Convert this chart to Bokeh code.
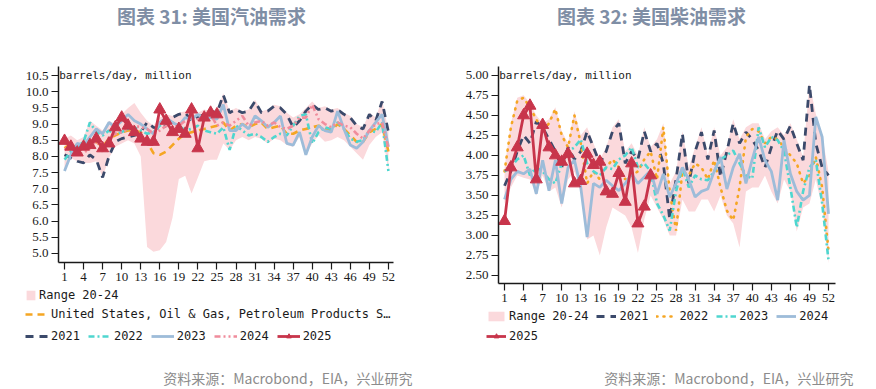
from bokeh.plotting import figure
from bokeh.models import Range1d, Legend, LegendItem, Label, FixedTicker, NumeralTickFormatter
from bokeh.layouts import row, column
from bokeh.embed import file_html
from bokeh.resources import INLINE

# ---------------- data ----------------
weeks = list(range(1, 53))
week_ticks = [1, 4, 7, 10, 13, 16, 19, 22, 25, 28, 31, 34, 37, 40, 43, 46, 49, 52]

gas_ticks = [5.0, 5.5, 6.0, 6.5, 7.0, 7.5, 8.0, 8.5, 9.0, 9.5, 10.0, 10.5]
diesel_ticks = [2.50, 2.75, 3.00, 3.25, 3.50, 3.75, 4.00, 4.25, 4.50, 4.75, 5.00]

# Gasoline (million barrels/day)
gas_low = [7.55, 7.95, 7.85, 7.80, 7.80, 7.85, 7.35, 7.95, 8.30, 8.40, 8.50, 8.40, 8.00,
           5.20, 5.05, 5.10, 5.35, 6.10, 7.30, 7.40, 6.85, 7.35, 7.85, 7.90, 7.90, 8.40,
           8.20, 8.50, 8.60, 8.50, 8.60, 8.55, 8.40, 8.55, 8.50, 8.35, 8.30, 8.60, 8.05,
           8.40, 8.65, 8.45, 8.50, 8.60, 8.50, 8.30, 8.10, 7.90, 8.35, 8.60, 8.75, 7.55]
gas_high = [8.55, 8.65, 8.50, 8.60, 9.10, 8.95, 8.80, 9.10, 9.00, 9.30, 9.50, 9.65, 9.35,
            9.10, 8.95, 9.20, 9.30, 9.25, 9.35, 9.40, 9.45, 9.35, 9.45, 9.40, 9.40, 9.95,
            9.40, 9.50, 9.40, 9.45, 9.75, 9.40, 9.45, 9.60, 9.55, 9.35, 9.20, 9.30, 9.50,
            9.70, 9.50, 9.55, 9.45, 9.50, 9.35, 9.25, 9.00, 8.90, 9.35, 9.20, 9.75, 8.80]
gas_us = [8.25, 8.40, 8.30, 8.20, 8.35, 8.45, 8.30, 8.55, 8.65, 8.75, 8.80, 8.80, 8.75,
          8.45, 8.10, 8.05, 8.15, 8.35, 8.55, 8.70, 8.75, 8.80, 8.85, 8.90, 8.95, 9.05,
          8.80, 8.95, 9.00, 8.90, 9.00, 9.05, 8.85, 8.90, 8.95, 8.70, 8.70, 8.80, 8.85,
          8.90, 8.95, 8.85, 8.80, 9.00, 8.85, 8.65, 8.45, 8.45, 8.75, 8.85, 9.00, 8.15]
gas_2021 = [8.05, 7.95, 7.85, 7.80, 8.05, 7.90, 7.35, 8.00, 8.45, 8.55, 8.60, 8.65, 8.75,
            9.05, 8.90, 8.85, 8.95, 9.20, 9.30, 9.35, 9.10, 9.20, 9.30, 9.40, 9.35, 9.90,
            9.35, 9.45, 9.35, 9.40, 9.70, 9.35, 9.40, 9.55, 9.50, 9.30, 8.90, 9.10, 9.40,
            9.60, 9.45, 9.50, 9.40, 9.45, 9.30, 9.20, 8.95, 8.85, 9.30, 9.10, 9.70, 8.75]
gas_2022 = [7.90, 8.15, 8.30, 8.45, 9.05, 8.75, 8.65, 8.80, 8.70, 8.75, 8.85, 8.90, 8.80,
            8.70, 8.75, 8.95, 9.05, 9.05, 8.95, 8.80, 8.85, 8.95, 8.80, 8.75, 8.70, 8.90,
            8.20, 8.95, 8.80, 8.65, 8.70, 8.60, 8.45, 8.60, 8.70, 8.65, 8.95, 9.25, 9.30,
            8.40, 8.75, 8.90, 8.85, 9.05, 8.85, 8.55, 8.45, 8.50, 8.80, 8.75, 9.05, 7.55]
gas_2023 = [7.55, 8.05, 8.40, 8.35, 8.60, 8.85, 8.70, 9.05, 8.90, 9.10, 9.30, 9.10, 9.00,
            8.85, 8.70, 9.05, 9.20, 9.05, 8.95, 9.20, 9.15, 9.30, 9.15, 9.20, 9.15, 9.60,
            8.80, 8.80, 9.00, 8.85, 9.25, 9.10, 8.90, 9.05, 9.25, 8.40, 8.35, 8.75, 8.05,
            8.60, 8.95, 8.80, 8.75, 9.40, 8.85, 8.35, 8.25, 8.45, 8.80, 9.05, 9.30, 8.30]
gas_2024 = [8.20, 8.35, 8.05, 8.10, 8.25, 8.50, 8.15, 8.60, 8.70, 8.75, 8.85, 8.95, 8.90,
            8.85, 8.70, 8.80, 8.95, 8.90, 8.95, 9.10, 9.05, 9.15, 9.20, 9.30, 8.95, 9.05,
            8.95, 9.10, 9.25, 8.95, 9.05, 9.10, 8.95, 9.05, 8.90, 8.85, 8.95, 9.20, 9.20,
            9.60, 9.15, 9.00, 8.90, 9.05, 8.95, 8.90, 8.70, 8.55, 8.80, 9.00, 9.05, 8.25]
gas_2025 = [8.48, 8.30, 8.12, 8.30, 8.35, 8.55, 8.25, 8.40, 8.90, 9.20, 8.95, 8.75, 8.55,
            8.45, 8.45, 9.45, 9.10, 8.75, 8.85, 8.70, 9.45, 8.25, 9.20, 9.35, 9.30]

# Diesel (million barrels/day)
dsl_low = [3.40, 3.60, 3.75, 3.72, 3.70, 3.50, 3.75, 3.55, 3.60, 3.35, 3.70, 3.80, 3.55,
           2.95, 3.00, 2.75, 3.10, 3.35, 3.30, 3.25, 3.10, 2.78, 3.20, 3.50, 3.35, 3.20,
           3.00, 3.00, 3.45, 3.30, 3.30, 3.45, 3.45, 3.30, 3.50, 3.25, 3.15, 2.85, 3.55,
           3.60, 3.60, 3.75, 3.55, 3.40, 3.70, 3.55, 3.05, 3.35, 3.40, 3.70, 3.35, 2.65]
dsl_high = [3.85, 4.40, 4.72, 4.75, 4.65, 4.50, 4.40, 4.45, 4.60, 4.30, 4.15, 4.55, 4.25,
            4.35, 4.15, 3.95, 4.10, 4.35, 4.45, 4.05, 4.15, 4.00, 4.35, 4.10, 4.20, 4.40,
            3.65, 3.80, 4.30, 3.85, 4.10, 4.35, 4.00, 4.35, 4.00, 4.10, 4.45, 4.20, 4.35,
            4.40, 4.40, 4.20, 4.30, 4.35, 4.25, 4.40, 4.20, 3.98, 4.90, 4.52, 4.25, 3.80]
dsl_2021 = [3.62, 3.80, 4.05, 4.25, 4.15, 4.42, 4.35, 4.20, 4.05, 3.85, 4.10, 3.95, 4.05,
            4.30, 4.10, 3.90, 4.05, 4.30, 4.40, 3.90, 4.05, 3.95, 4.30, 4.05, 4.15, 3.90,
            3.20, 3.70, 4.27, 3.65, 4.05, 4.29, 3.95, 4.31, 3.73, 4.05, 4.40, 4.15, 4.29,
            4.20, 4.06, 3.85, 4.10, 4.31, 4.20, 4.37, 4.15, 3.94, 4.88, 4.15, 3.85, 3.75]
dsl_2022 = [3.80, 4.35, 4.68, 4.72, 4.60, 4.45, 4.30, 4.40, 4.58, 4.25, 4.10, 4.50, 4.15,
            3.65, 3.80, 3.70, 3.85, 3.95, 3.85, 3.70, 3.75, 3.80, 3.95, 4.05, 3.70, 4.35,
            3.55, 3.06, 3.80, 3.75, 3.90, 3.85, 3.70, 3.94, 3.60, 3.31, 3.19, 3.60, 4.23,
            4.33, 4.30, 4.15, 4.23, 4.20, 4.10, 4.00, 3.90, 3.65, 3.75, 3.98, 3.60, 2.81]
dsl_2023 = [3.80, 3.85, 3.95, 4.00, 3.75, 3.85, 3.80, 3.70, 3.65, 3.90, 4.05, 4.10, 4.20,
            3.90, 3.80, 3.75, 3.85, 3.83, 3.95, 4.00, 4.10, 3.85, 3.90, 3.80, 3.40, 3.25,
            3.06, 3.55, 3.85, 3.60, 3.75, 3.70, 3.69, 3.80, 3.95, 4.00, 4.06, 3.90, 3.75,
            3.71, 4.35, 4.10, 4.23, 4.19, 4.05, 3.60, 3.10, 3.55, 3.85, 3.94, 3.40, 2.69]
dsl_2024 = [3.45, 3.70, 3.80, 3.77, 3.83, 3.52, 3.94, 3.56, 3.94, 3.40, 3.85, 3.94, 3.60,
            2.98, 3.65, 3.60, 3.69, 3.62, 3.56, 3.65, 3.77, 3.65, 3.73, 3.81, 3.52, 3.77,
            3.48, 3.65, 3.85, 3.70, 3.48, 3.55, 3.58, 3.80, 3.98, 3.58, 3.85, 4.02, 3.65,
            3.95, 4.23, 3.94, 3.80, 3.44, 4.19, 3.77, 3.55, 3.44, 3.50, 4.48, 4.23, 3.27]
dsl_2025 = [3.18, 3.85, 4.10, 4.50, 4.62, 3.70, 4.38, 4.10, 4.00, 3.92, 4.02, 3.65, 3.68,
            4.02, 3.88, 3.92, 3.55, 3.52, 3.78, 3.42, 3.90, 3.15, 3.36, 3.75]

# ---------------- styles ----------------
C_BAND = "#fbd9dc"
C_NAVY = "#3b4a6b"
C_TURQ = "#4fd6cf"
C_BLUE = "#9dbcd9"
C_PINK = "#f08c9c"
C_ORANGE = "#f5a623"
C_RED = "#c8354b"
C_TITLE = "#7f8ea5"
C_AXIS = "#1a1a1a"
MONO = "DejaVu Sans Mono"
SOURCE = "资料来源：Macrobond，EIA，兴业研究"
NAN = [float("nan")]

STY = {
    "us": dict(line_color=C_ORANGE, line_width=2.6, line_dash="7 5"),
    "n21": dict(line_color=C_NAVY, line_width=2.8, line_dash="8 6"),
    "t": dict(line_color=C_TURQ, line_width=2.6, line_dash="6 3 2 3"),
    "b": dict(line_color=C_BLUE, line_width=2.8),
    "p24": dict(line_color=C_PINK, line_width=2.6, line_dash="6 3 2 3 2 3"),
    "o22": dict(line_color=C_ORANGE, line_width=2.6, line_dash="1 6", line_cap="round"),
    "r": dict(line_color=C_RED, line_width=2.8),
}
TRI = dict(marker="triangle", size=12, fill_color=C_RED, line_color=C_RED)


def blank_fig(w, h):
    p = figure(width=w, height=h, x_range=Range1d(0, w), y_range=Range1d(0, h),
               output_backend="svg", toolbar_location=None,
               x_axis_location=None, y_axis_location=None, min_border=0,
               min_border_left=0, min_border_right=0, min_border_top=0, min_border_bottom=0)
    p.outline_line_color = None
    p.grid.visible = False
    return p


def main_fig(w, h, xr, yr, left, right, ticks, fmt):
    p = figure(width=w, height=h, x_range=Range1d(*xr), y_range=Range1d(*yr),
               output_backend="svg", toolbar_location=None,
               min_border_left=left, min_border_right=right, min_border_top=16,
               min_border_bottom=26)
    p.outline_line_color = None
    p.grid.visible = False
    for ax in (p.xaxis[0], p.yaxis[0]):
        ax.axis_line_color = C_AXIS
        ax.axis_line_width = 1.5
        ax.major_tick_line_color = C_AXIS
        ax.major_tick_line_width = 1.2
        ax.major_tick_in = 0
        ax.major_tick_out = 7
        ax.minor_tick_line_color = None
        ax.major_label_text_font = "Liberation Serif"
        ax.major_label_text_font_size = "13px"
        ax.major_label_text_color = C_AXIS
        ax.major_label_standoff = 3
    p.xaxis.ticker = FixedTicker(ticks=week_ticks)
    p.yaxis.ticker = FixedTicker(ticks=ticks)
    p.yaxis.formatter = NumeralTickFormatter(format=fmt)
    return p


def header(w, text, cx):
    h = blank_fig(w, 50)
    h.add_layout(Label(x=cx, y=35, text=text, text_align="center", text_baseline="middle",
                       text_font="Noto Sans CJK SC", text_font_size="19px",
                       text_font_style="bold", text_color=C_TITLE))
    return h


def add_unit(p, x, y):
    p.add_layout(Label(x=x, y=y, text="barrels/day, million", text_font=MONO,
                       text_font_size="11px", text_baseline="middle", text_color=C_AXIS))


def legend_row(f, entries, x, y, glyph_w):
    items = []
    for label, kind, sty in entries:
        if kind == "area":
            r = f.varea(x=NAN, y1=NAN, y2=NAN, fill_color=C_BAND)
            items.append(LegendItem(label=label, renderers=[r]))
        elif kind == "tri":
            r1 = f.line(NAN, NAN, **STY["r"])
            r2 = f.scatter(NAN, NAN, **TRI)
            items.append(LegendItem(label=label, renderers=[r1, r2]))
        else:
            r = f.line(NAN, NAN, **STY[sty])
            items.append(LegendItem(label=label, renderers=[r]))
    lg = Legend(items=items, orientation="horizontal", location=(x, y),
                glyph_width=glyph_w, glyph_height=12, label_standoff=3, spacing=8,
                padding=0, margin=0, border_line_color=None, background_fill_alpha=0,
                label_text_font=MONO, label_text_font_size="12px", label_height=14,
                label_text_color=C_AXIS, label_text_baseline="middle")
    f.add_layout(lg, "center")


def footer(f, x_right, y):
    f.add_layout(Label(x=x_right, y=y, text=SOURCE, text_align="right", text_baseline="middle",
                       text_font="Noto Sans CJK SC", text_font_size="14px",
                       text_color="#8c8c8c"))


# ---------------- left: gasoline ----------------
W1 = 446
h1 = header(W1, "图表 31: 美国汽油需求", 211)
p1 = main_fig(W1, 238, (0.05, 52.8), (4.72, 10.78), 58, 53, gas_ticks, "0.0")
w25 = weeks[:len(gas_2025)]
p1.varea(x=weeks, y1=gas_low, y2=gas_high, fill_color=C_BAND, fill_alpha=1.0)
p1.line(weeks, gas_us, **STY["us"])
p1.line(weeks, gas_2021, **STY["n21"])
p1.line(weeks, gas_2022, **STY["t"])
p1.line(weeks, gas_2023, **STY["b"])
p1.line(weeks, gas_2024, **STY["p24"])
p1.line(w25, gas_2025, **STY["r"])
p1.scatter(w25, gas_2025, **TRI)
add_unit(p1, 0.15, 10.5)

L1 = blank_fig(W1, 99)
legend_row(L1, [("Range 20-24", "area", None)], 25, 85, 11)
legend_row(L1, [("United States, Oil & Gas, Petroleum Products S…", "line", "us")], 25, 66, 23)
legend_row(L1, [("2021", "line", "n21"), ("2022", "line", "t"), ("2023", "line", "b"),
                ("2024", "line", "p24"), ("2025", "tri", None)], 25, 44, 23)
footer(L1, 412, 10)

# ---------------- right: diesel ----------------
W2 = 429
h2 = header(W2, "图表 32: 美国柴油需求", 205)
p2 = main_fig(W2, 259, (0.05, 53.1), (2.40, 5.11), 52, 40, diesel_ticks, "0.00")
d25 = weeks[:len(dsl_2025)]
p2.varea(x=weeks, y1=dsl_low, y2=dsl_high, fill_color=C_BAND, fill_alpha=1.0)
p2.line(weeks, dsl_2021, **STY["n21"])
p2.line(weeks, dsl_2022, **STY["o22"])
p2.line(weeks, dsl_2023, **STY["t"])
p2.line(weeks, dsl_2024, **STY["b"])
p2.line(d25, dsl_2025, **STY["r"])
p2.scatter(d25, dsl_2025, **TRI)
add_unit(p2, 0.15, 5.0)

L2 = blank_fig(W2, 78)
legend_row(L2, [("Range 20-24", "area", None), ("2021", "line", "n21"),
                ("2022", "line", "o22"), ("2023", "line", "t"), ("2024", "line", "b")],
           40, 64, 20)
legend_row(L2, [("2025", "tri", None)], 40, 44, 20)
footer(L2, 407, 10)

layout = row(column(row(h1), p1, row(L1)), column(column(h2), p2, column(L2)))
open("out.html", "w").write(file_html(layout, INLINE))
